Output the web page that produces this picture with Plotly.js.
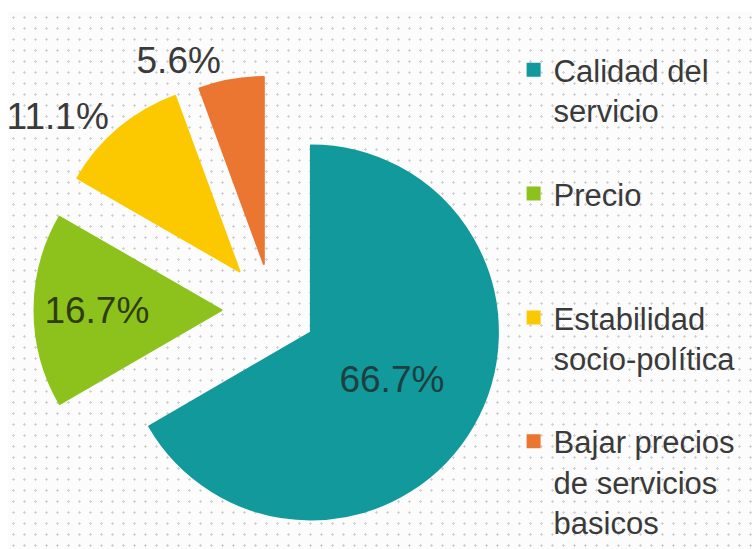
<!DOCTYPE html>
<html>
<head>
<meta charset="utf-8">
<script src="https://cdn.plot.ly/plotly-3.0.1.min.js"></script>
<style>
  html, body { margin: 0; padding: 0; background: #ffffff; overflow: hidden; }
  #bg {
    position: absolute; left: 8px; top: 12px; right: 0; bottom: 0;
    background-color: #fcfcfc;
    background-image: radial-gradient(circle, #d2d2d2 1px, transparent 1.4px);
    background-size: 11px 11px;
  }
  #chart { position: absolute; left: 0; top: 0; width: 752px; height: 549px; }
</style>
</head>
<body>
<div id="bg"></div>
<div id="chart"></div>
<script>
// Data
const categories = [
  'Calidad del<br>servicio',
  'Precio',
  'Estabilidad<br>socio-política',
  'Bajar precios<br>de servicios<br>basicos'
];
const percentValues = [66.7, 16.7, 11.1, 5.6];
const sliceColors = ['#12999b', '#8dc21d', '#fcc800', '#eb7631'];

// Presentation (spacing lines after each legend entry)
const NB = '\u00A0';
const legendPadding = ['<br>' + NB, '<br>' + NB + '<br>' + NB, '<br>' + NB, ''];
const legendLabels = categories.map((c, i) => c + legendPadding[i]);

const trace = {
  type: 'pie',
  labels: legendLabels,
  values: percentValues,
  sort: false,
  direction: 'clockwise',
  rotation: 0,
  pull: [0.24, 0.27, 0.27, 0.25],
  marker: { colors: sliceColors, line: { color: sliceColors, width: 2 } },
  texttemplate: '%{value}%',
  textinfo: 'text',
  textposition: ['inside', 'inside', 'outside', 'outside'],
  insidetextorientation: 'horizontal',
  insidetextfont: { family: 'Liberation Sans, Arial, sans-serif', size: 37, color: ['#1d3f40', '#2e3d10', '#333', '#333'] },
  outsidetextfont: { family: 'Liberation Sans, Arial, sans-serif', size: 37, color: '#3a3a3a' },
  hoverinfo: 'label+percent',
  domain: { x: [0.0459, 0.6775], y: [0.0027, 0.8679] }
};

const layout = {
  width: 752,
  height: 549,
  margin: { l: 0, r: 0, t: 0, b: 0 },
  paper_bgcolor: 'rgba(0,0,0,0)',
  plot_bgcolor: 'rgba(0,0,0,0)',
  showlegend: true,
  legend: {
    x: 0.683, xanchor: 'left',
    y: 0.903, yanchor: 'top',
    valign: 'top',
    bgcolor: 'rgba(0,0,0,0)',
    font: { family: 'Liberation Sans, Arial, sans-serif', size: 31, color: '#3a3a3a' }
  }
};

Plotly.newPlot('chart', [trace], layout, { displayModeBar: false, staticPlot: true });
</script>
</body>
</html>
